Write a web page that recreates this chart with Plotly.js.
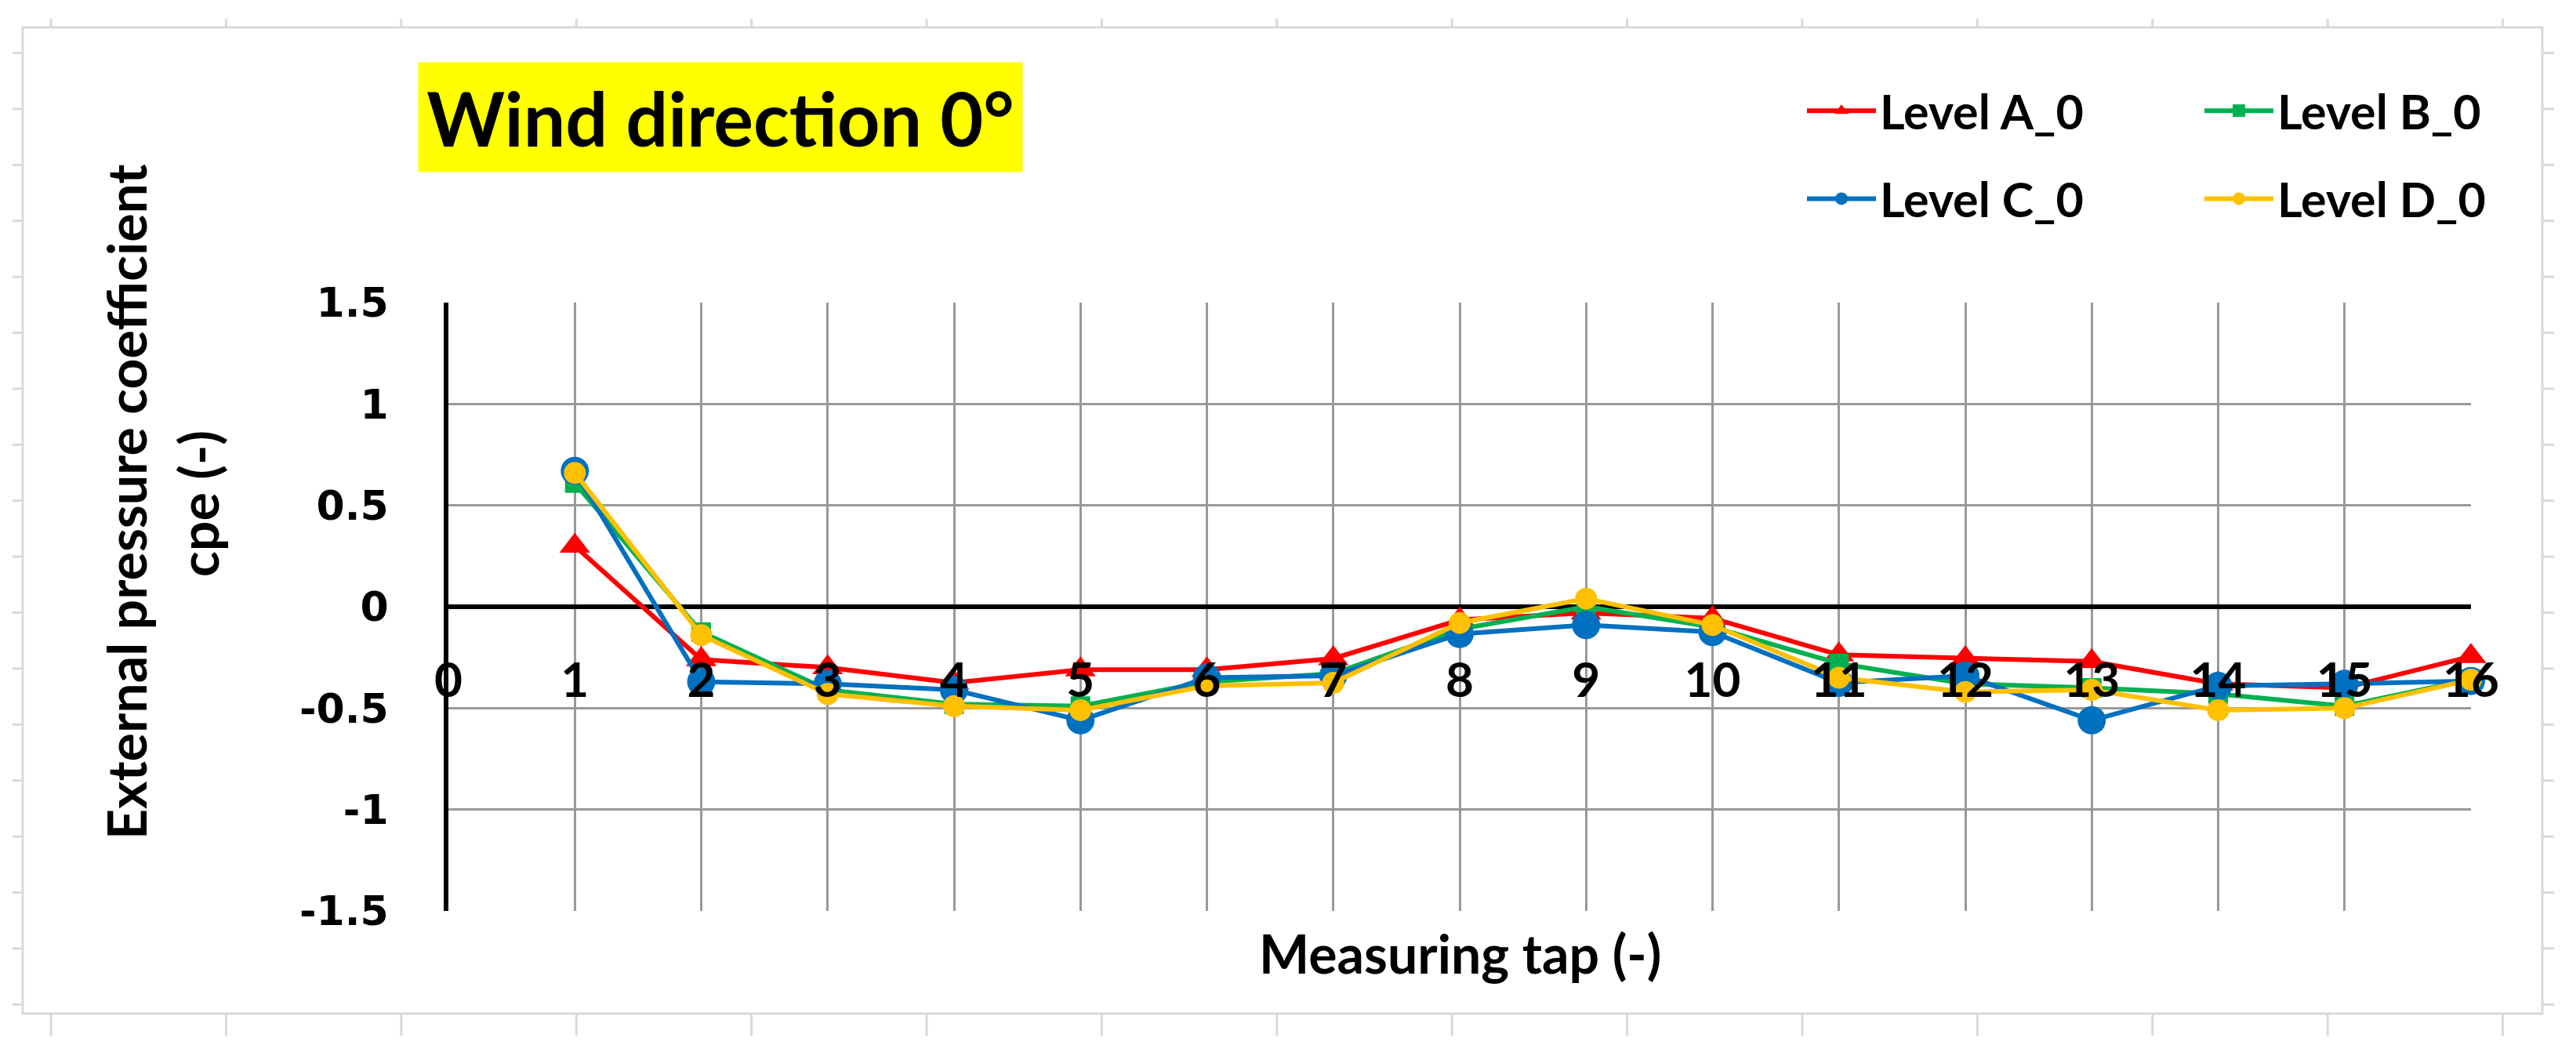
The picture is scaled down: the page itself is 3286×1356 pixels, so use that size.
<!DOCTYPE html>
<html>
<head>
<meta charset="utf-8">
<script src="https://cdn.plot.ly/plotly-3.0.1.min.js"></script>
<style>html,body{margin:0;padding:0;background:#fff;}#chart{width:3286px;height:1356px;}</style>
</head>
<body>
<div id="chart"></div>
<script>
// ---- data ----
const taps = [1, 2, 3, 4, 5, 6, 7, 8, 9, 10, 11, 12, 13, 14, 15, 16];
const levelA = [0.30, -0.26, -0.30, -0.375, -0.31, -0.31, -0.255, -0.065, -0.03, -0.057, -0.237, -0.255, -0.27, -0.38, -0.40, -0.245];
const levelB = [0.61, -0.125, -0.41, -0.48, -0.49, -0.37, -0.33, -0.11, 0.00, -0.10, -0.28, -0.38, -0.40, -0.43, -0.49, -0.357];
const levelC = [0.67, -0.37, -0.38, -0.41, -0.56, -0.35, -0.34, -0.134, -0.09, -0.125, -0.375, -0.34, -0.56, -0.39, -0.38, -0.366];
const levelD = [0.66, -0.14, -0.43, -0.49, -0.51, -0.39, -0.375, -0.08, 0.04, -0.09, -0.35, -0.42, -0.41, -0.51, -0.50, -0.36];
const seriesNames = ['Level A_0', 'Level B_0', 'Level C_0', 'Level D_0'];
const xTickVals = [0, 1, 2, 3, 4, 5, 6, 7, 8, 9, 10, 11, 12, 13, 14, 15, 16];
const xTickText = ['0', '1', '2', '3', '4', '5', '6', '7', '8', '9', '10', '11', '12', '13', '14', '15', '16'];
const yTickVals = [1.5, 1, 0.5, 0, -0.5, -1, -1.5];
const yTickText = ['1.5', '1', '0.5', '0', '-0.5', '-1', '-1.5'];
const chartTitle = 'Wind direction 0°';
const xTitle = 'Measuring tap (-)';
const yTitleLine1 = 'External pressure coefficient';
const yTitleLine2 = 'cpe (-)';

// ---- geometry ----
const W = 3286, H = 1356;
const L = 572, R = 3152, T = 386, B = 1162;
const px2x = p => (p - L) / (R - L);
const py2y = p => (B - p) / (B - T);

const FONT = 'Lato, "Open Sans", sans-serif';

function mk(name, y, color, symbol, size, legend, group) {
  return {
    type: 'scatter', mode: 'lines+markers', x: taps, y: y, name: name,
    line: {color: color, width: 6},
    marker: {color: color, symbol: symbol, size: size, line: {width: 0}},
    cliponaxis: false, legend: legend, legendgroup: group
  };
}
const traces = [
  mk(seriesNames[0], levelA, '#FF0000', 'triangle-up', 34, 'legend', 'a'),
  mk(seriesNames[1], levelB, '#00B050', 'square', 25, 'legend2', 'b'),
  mk(seriesNames[2], levelC, '#0070C0', 'circle', 36, 'legend', 'c'),
  mk(seriesNames[3], levelD, '#FFC000', 'circle', 28, 'legend2', 'd')
];

// ---- decorative worksheet frame ----
const shapes = [];
const frameColor = '#d9d9d9';
shapes.push({type: 'rect', xref: 'paper', yref: 'paper',
  x0: px2x(29), x1: px2x(3243), y0: py2y(35), y1: py2y(1293),
  line: {color: frameColor, width: 3}, fillcolor: 'rgba(0,0,0,0)', layer: 'below'});
for (let k = 0; k <= 14; k++) {
  const xp = 65 + 223.4 * k;
  shapes.push({type: 'line', xref: 'paper', yref: 'paper', x0: px2x(xp), x1: px2x(xp), y0: py2y(24), y1: py2y(35), line: {color: frameColor, width: 3}});
  shapes.push({type: 'line', xref: 'paper', yref: 'paper', x0: px2x(xp), x1: px2x(xp), y0: py2y(1293), y1: py2y(1321), line: {color: frameColor, width: 3}});
}
for (let k = 0; k <= 17; k++) {
  const yp = 67.5 + 71.4 * k;
  shapes.push({type: 'line', xref: 'paper', yref: 'paper', x0: px2x(16), x1: px2x(29), y0: py2y(yp), y1: py2y(yp), line: {color: frameColor, width: 3}});
  shapes.push({type: 'line', xref: 'paper', yref: 'paper', x0: px2x(3243), x1: px2x(3258), y0: py2y(yp), y1: py2y(yp), line: {color: frameColor, width: 3}});
}

const annotations = [
  {text: chartTitle, xref: 'paper', yref: 'paper', x: px2x(919), y: py2y(150),
   xanchor: 'center', yanchor: 'middle', showarrow: false, bgcolor: '#FFFF00',
   width: 770, height: 139, borderpad: 0,
   font: {family: FONT, size: 95, color: '#000', weight: 'bold'}},
  {text: xTitle, xref: 'paper', yref: 'paper', x: px2x(1862), y: py2y(1215),
   xanchor: 'center', yanchor: 'middle', showarrow: false,
   font: {family: FONT, size: 68, color: '#000', weight: 'bold'}},
  {text: yTitleLine1, xref: 'paper', yref: 'paper', x: px2x(160), y: py2y(640),
   xanchor: 'center', yanchor: 'middle', showarrow: false, textangle: -90,
   font: {family: FONT, size: 68, color: '#000', weight: 'bold'}},
  {text: yTitleLine2, xref: 'paper', yref: 'paper', x: px2x(252), y: py2y(643),
   xanchor: 'center', yanchor: 'middle', showarrow: false, textangle: -90,
   font: {family: FONT, size: 68, color: '#000', weight: 'bold'}}
];

const legendCommon = {
  orientation: 'v', xref: 'container', yref: 'container', xanchor: 'left', yanchor: 'top',
  bgcolor: 'rgba(0,0,0,0)', borderwidth: 0, itemwidth: 88, traceorder: 'grouped', tracegroupgap: 30,
  font: {family: FONT, size: 61, color: '#000', weight: 'bold'}
};

const layout = {
  width: W, height: H, autosize: false,
  paper_bgcolor: '#ffffff', plot_bgcolor: '#ffffff',
  margin: {l: L, r: W - R, t: T, b: H - B, autoexpand: false},
  showlegend: true,
  legend: Object.assign({}, legendCommon, {x: 2300 / W, y: 1 - 95 / H}),
  legend2: Object.assign({}, legendCommon, {x: 2807 / W, y: 1 - 95 / H}),
  xaxis: {
    range: [0, 16], anchor: 'free', position: py2y(826),
    tickmode: 'array', tickvals: xTickVals, ticktext: xTickText,
    showline: false, zeroline: false, ticks: '',
    showgrid: true, gridcolor: '#999999', gridwidth: 3,
    tickfont: {family: FONT, size: 62, color: '#000', weight: 'bold'},
    fixedrange: true
  },
  yaxis: {
    range: [-1.5, 1.5],
    tickmode: 'array', tickvals: yTickVals, ticktext: yTickText,
    showline: true, linecolor: '#000', linewidth: 6,
    zeroline: true, zerolinecolor: '#000', zerolinewidth: 6,
    showgrid: true, gridcolor: '#999999', gridwidth: 3,
    ticks: '', ticklabelstandoff: 60,
    tickfont: {family: '"DejaVu Sans", sans-serif', size: 52, color: '#000', weight: 'bold'},
    fixedrange: true
  },
  shapes: shapes,
  annotations: annotations
};

Plotly.newPlot('chart', traces, layout, {staticPlot: true, displayModeBar: false});
</script>
</body>
</html>
